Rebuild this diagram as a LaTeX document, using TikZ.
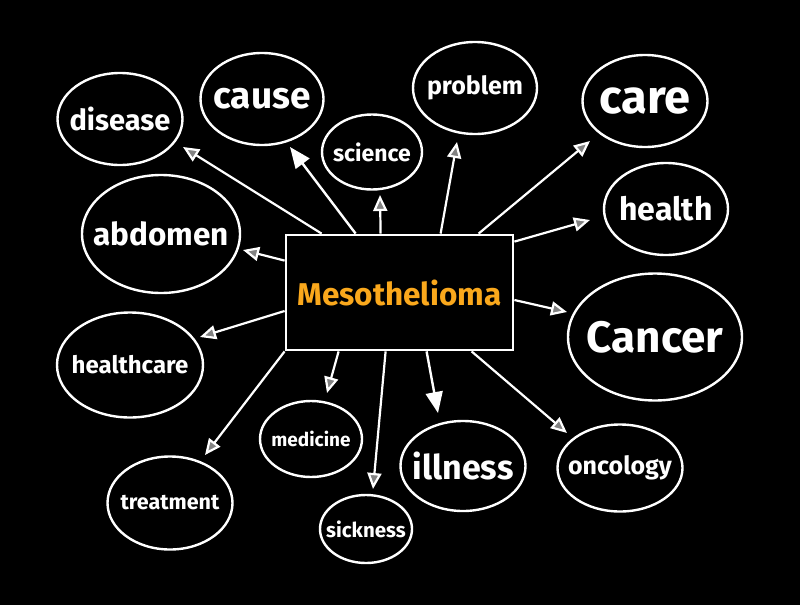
\documentclass[tikz,border=0pt]{standalone}
\usepackage{fontspec}
\setmainfont{Fira Sans}
\usetikzlibrary{arrows.meta,positioning,calc,shapes.geometric}
\definecolor{MesoOr}{RGB}{250,168,28}
\definecolor{TipGray}{RGB}{130,130,130}
\newcommand{\wsize}[1]{\fontsize{#1}{#1}\selectfont\bfseries}
\tikzset{
  bubble/.style={ellipse,draw=white,line width=2.4pt,inner sep=0pt},
  word/.style={text=white,inner sep=0pt},
  hub/.style={draw=white,line width=2.8pt,fill=black,text=MesoOr,
              minimum width=227pt,minimum height=115pt,inner sep=0pt},
  spoke/.style={-{Triangle[length=16pt,width=14pt,fill=TipGray]},white,line width=2.2pt},
  fullspoke/.style={-{Triangle[length=21pt,width=17pt]},white,line width=2.4pt},
}
\begin{document}
\begin{tikzpicture}[x=1pt,y=-1pt]
  \fill[black] (0,0) rectangle (800,605);
  \useasboundingbox (0,0) rectangle (800,605);

  % centre
  \node[hub,font=\wsize{31.5}] (hub) at (399.5,292.5) {Mesothelioma};

  % bubbles
  \node[bubble,minimum width=125pt,minimum height=92pt] (disease) at (120,119) {};
  \node[word,font=\wsize{29}] (disease-t) at (disease) {disease};
  \node[bubble,minimum width=123pt,minimum height=92pt] (cause) at (262,99) {};
  \node[word,font=\wsize{37}] (cause-t) at (cause) {cause};
  \node[bubble,minimum width=100pt,minimum height=75pt] (science) at (372,152) {};
  \node[word,font=\wsize{23}] (science-t) at (science) {science};
  \node[bubble,minimum width=124pt,minimum height=92pt] (problem) at (475,88) {};
  \node[word,font=\wsize{25}] (problem-t) at (problem) {problem};
  \node[bubble,minimum width=125pt,minimum height=92pt] (care) at (645,101) {};
  \node[word,font=\wsize{47}] (care-t) at (care) {care};
  \node[bubble,minimum width=124pt,minimum height=92pt] (health) at (666,209) {};
  \node[word,font=\wsize{32}] (health-t) at (health) {health};
  \node[bubble,minimum width=158pt,minimum height=118pt] (abdomen) at (161,234) {};
  \node[word,font=\wsize{31.5}] (abdomen-t) at (abdomen) {abdomen};
  \node[bubble,minimum width=174pt,minimum height=127pt] (cancer) at (655,337) {};
  \node[word,font=\wsize{44}] (cancer-t) at (cancer) {Cancer};
  \node[bubble,minimum width=146pt,minimum height=105pt] (healthcare) at (130,365) {};
  \node[word,font=\wsize{24}] (healthcare-t) at (healthcare) {healthcare};
  \node[bubble,minimum width=102pt,minimum height=76pt] (medicine) at (311,439) {};
  \node[word,font=\wsize{19}] (medicine-t) at (medicine) {medicine};
  \node[bubble,minimum width=125pt,minimum height=93pt] (treatment) at (170,503) {};
  \node[word,font=\wsize{21.5}] (treatment-t) at (treatment) {treatment};
  \node[bubble,minimum width=92pt,minimum height=68pt] (sickness) at (366,529) {};
  \node[word,font=\wsize{20.5}] (sickness-t) at (sickness) {sickness};
  \node[bubble,minimum width=125pt,minimum height=90pt] (illness) at (463,466) {};
  \node[word,font=\wsize{34}] (illness-t) at (illness) {illness};
  \node[bubble,minimum width=125pt,minimum height=87pt] (oncology) at (620,468) {};
  \node[word,font=\wsize{25}] (oncology-t) at (oncology) {oncology};

  % arrow ends
  \coordinate (tip-disease) at (183,147);
  \coordinate (tip-cause) at (290,147);
  \coordinate (tip-science) at (380,195);
  \coordinate (tip-problem) at (457,142);
  \coordinate (tip-care) at (590,141);
  \coordinate (tip-health) at (590,220);
  \coordinate (tip-cancer) at (567,312);
  \coordinate (tip-abdomen) at (243,250);
  \coordinate (tip-healthcare) at (200,337);
  \coordinate (tip-treatment) at (205,455);
  \coordinate (tip-medicine) at (327,393);
  \coordinate (tip-sickness) at (373,489);
  \coordinate (tip-illness) at (438,413);
  \coordinate (tip-oncology) at (567,433);

  \draw[spoke] ([xshift=37pt]hub.north west) -- (tip-disease);
  \draw[fullspoke] ([xshift=71pt]hub.north west) -- (tip-cause);
  \draw[spoke] ([xshift=96pt]hub.north west) -- (tip-science);
  \draw[spoke] ([xshift=156pt]hub.north west) -- (tip-problem);
  \draw[spoke] ([xshift=194pt]hub.north west) -- (tip-care);
  \draw[spoke] ([yshift=-8pt]hub.north east) -- (tip-health);
  \draw[spoke] ([yshift=-7.5pt]hub.east) -- (tip-cancer);
  \draw[spoke] ([yshift=-27pt]hub.north west) -- (tip-abdomen);
  \draw[spoke] ([yshift=-18.5pt]hub.west) -- (tip-healthcare);
  \draw[spoke] (hub.south west) -- (tip-treatment);
  \draw[spoke] ([xshift=54pt]hub.south west) -- (tip-medicine);
  \draw[spoke] ([xshift=101pt]hub.south west) -- (tip-sickness);
  \draw[fullspoke] ([xshift=142pt]hub.south west) -- (tip-illness);
  \draw[spoke] ([xshift=187pt]hub.south west) -- (tip-oncology);
\end{tikzpicture}
\end{document}
